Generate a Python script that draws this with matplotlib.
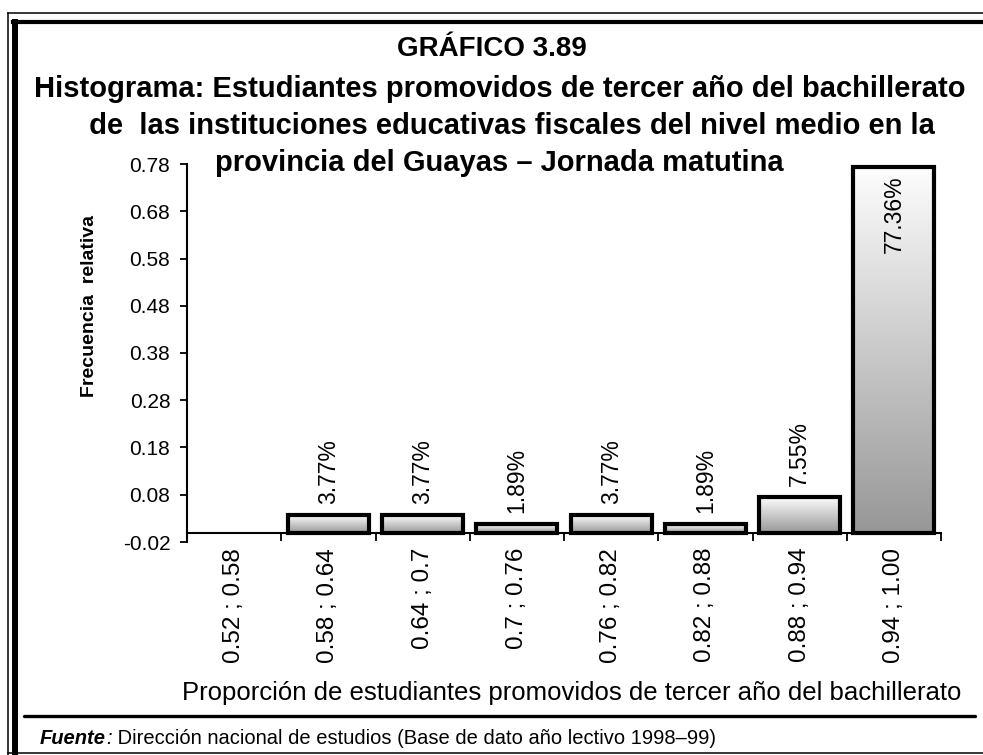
import numpy as np
import matplotlib
matplotlib.use("Agg")
from matplotlib import pyplot as plt
from matplotlib.lines import Line2D
from matplotlib.colors import LinearSegmentedColormap

plt.rcParams['font.family'] = ['Liberation Sans', 'DejaVu Sans']

# datos
intervals = ["0.52 ; 0.58", "0.58 ; 0.64", "0.64 ; 0.7", "0.7 ; 0.76",
             "0.76 ; 0.82", "0.82 ; 0.88", "0.88 ; 0.94", "0.94 ; 1.00"]
rel_freq = [0.0, 0.0377, 0.0377, 0.0189, 0.0377, 0.0189, 0.0755, 0.7736]
bar_labels = ["", "3.77%", "3.77%", "1.89%", "3.77%", "1.89%", "7.55%", "77.36%"]
y_ticks = [-0.02, 0.08, 0.18, 0.28, 0.38, 0.48, 0.58, 0.68, 0.78]

title_lines = ["GRÁFICO 3.89",
               "Histograma: Estudiantes promovidos de tercer año del bachillerato",
               " de  las instituciones educativas fiscales del nivel medio en la",
               "provincia del Guayas – Jornada matutina"]
x_title = "Proporción de estudiantes promovidos de tercer año del bachillerato"
y_title = "Frecuencia  relativa"

W, H = 983, 755
fig = plt.figure(figsize=(W / 100, H / 100), dpi=100)


def fx(px):
    return px / W


def fy(py):
    return 1 - py / H


ax = fig.add_axes([fx(187), fy(542), fx(941) - fx(187), fy(164) - fy(542)])
# eje de categorias cruza en 0 (se hace antes de los ticks: set_position los reinicia)
ax.spines['bottom'].set_position(('data', 0))
ax.spines['top'].set_visible(False)
ax.spines['right'].set_visible(False)
ax.spines['left'].set_linewidth(1.5)
ax.spines['bottom'].set_linewidth(1.5)
ax.patch.set_visible(False)

x = np.arange(len(intervals))
bars = ax.bar(x, rel_freq, width=0.86, facecolor='none', edgecolor='black',
              linewidth=3, zorder=3)

# degradado de cada barra (blanco arriba, gris abajo)
cmap = LinearSegmentedColormap.from_list("g", ["#979797", "#fdfdfd"])
grad = np.linspace(0, 1, 256).reshape(-1, 1)
for b, v in zip(bars, rel_freq):
    if v == 0:
        b.set_visible(False)
        continue
    x0 = b.get_x()
    ax.imshow(grad, extent=(x0, x0 + b.get_width(), 0, v), origin='lower',
              aspect='auto', cmap=cmap, zorder=2)

for b, v, lab in zip(bars, rel_freq, bar_labels):
    if lab == "":
        continue
    cx = b.get_x() + b.get_width() / 2
    if v > 0.5:
        ax.annotate(lab, (cx, v), xytext=(0, -6), textcoords='offset points',
                    rotation=90, ha='center', va='top', fontsize=16.5, zorder=4)
    else:
        ax.annotate(lab, (cx, v), xytext=(0, 8), textcoords='offset points',
                    rotation=90, ha='center', va='bottom', fontsize=16.5, zorder=4)

ax.set_xlim(-0.5, len(intervals) - 0.5)
ax.set_ylim(-0.02, 0.78)
ax.set_yticks(y_ticks)
ax.set_yticklabels(["%.2f" % t for t in y_ticks], fontsize=15)
ax.set_xticks(x)
ax.set_xticklabels(intervals, rotation=90, fontsize=17.5)
ax.set_xticks(np.arange(len(intervals) + 1) - 0.5, minor=True)
ax.tick_params(axis='x', which='major', length=0, pad=11)
ax.tick_params(axis='x', which='minor', length=6, width=1.3, direction='out')
ax.tick_params(axis='y', length=5, width=1.3, direction='out', pad=7)

# titulos
fig.text(fx(492), fy(56), title_lines[0], fontsize=20, fontweight='bold',
         ha='center', va='baseline')
fig.text(fx(34), fy(97), title_lines[1], fontsize=21, fontweight='bold',
         ha='left', va='baseline')
fig.text(fx(508), fy(134), title_lines[2], fontsize=21, fontweight='bold',
         ha='center', va='baseline')
fig.text(fx(215), fy(171), title_lines[3], fontsize=21, fontweight='bold',
         ha='left', va='baseline')

fig.text(fx(90), fy(306), y_title, fontsize=14, fontweight='bold',
         rotation=90, ha='center', va='center')
fig.text(fx(572), fy(700), x_title, fontsize=18.5, ha='center', va='baseline')

# linea separadora y fuente
fig.add_artist(Line2D([fx(24), fx(975)], [fy(716), fy(716)], color='black',
                      linewidth=2.4, solid_capstyle='round'))

renderer = fig.canvas.get_renderer()
t1 = fig.text(fx(40), fy(738), "Fuente", fontsize=14.5, fontweight='bold',
              fontstyle='italic', ha='left', va='center')
bb = t1.get_window_extent(renderer)
t2 = fig.text(bb.x1 / W, fy(738), ":", fontsize=14.5, fontstyle='italic',
              ha='left', va='center')
bb = t2.get_window_extent(renderer)
fig.text(bb.x1 / W, fy(738), " Dirección nacional de estudios (Base de dato año lectivo 1998–99)",
         fontsize=14.5, ha='left', va='center')

# marco doble
fig.add_artist(Line2D([fx(8), fx(8)], [fy(13), 0], color='black', linewidth=1.1))
fig.add_artist(Line2D([fx(8), 1], [fy(13), fy(13)], color='black', linewidth=1.1))
fig.add_artist(Line2D([fx(15), fx(15)], [fy(22), 0], color='black', linewidth=4.3))
fig.add_artist(Line2D([fx(13), 1], [fy(22), fy(22)], color='black', linewidth=3))
fig.add_artist(Line2D([fx(8), 1], [fy(753), fy(753)], color='black', linewidth=1.1))

fig.savefig("out.png", dpi=100)
